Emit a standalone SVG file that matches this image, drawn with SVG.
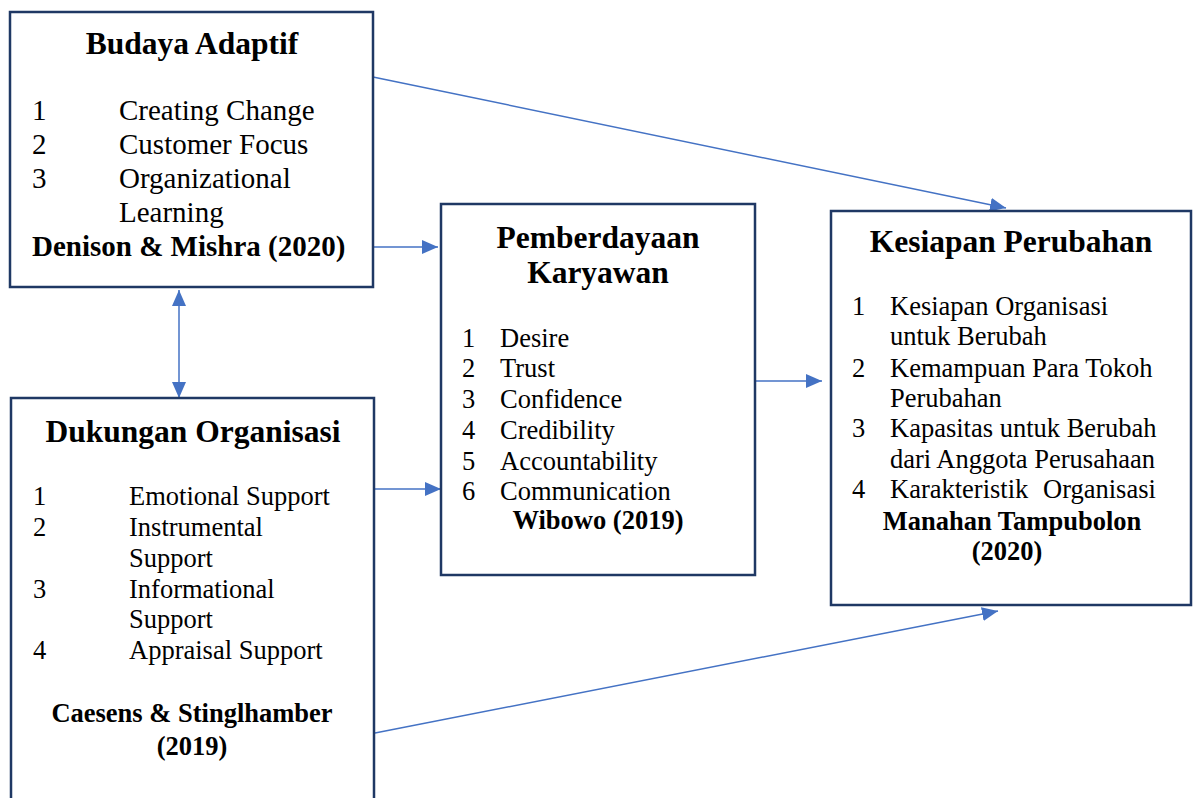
<svg xmlns="http://www.w3.org/2000/svg" width="1193" height="798" viewBox="0 0 1193 798">
<style>
.box{fill:#ffffff;stroke:#1F3864;stroke-width:2.5}
.t{font-family:"Liberation Serif","Times New Roman",serif;fill:#000}
.title{font-weight:bold;font-size:31.5px;text-anchor:middle}
.b1{font-size:29px}
.b{font-size:26.5px}
.cite{font-weight:bold;font-size:26.5px;text-anchor:middle}
.cite1{font-weight:bold;font-size:29px}
.conn{stroke:#4472C4;stroke-width:1.5;fill:none}
</style>
<defs>
<marker id="ah" markerUnits="userSpaceOnUse" markerWidth="16" markerHeight="14" refX="16" refY="7" orient="auto-start-reverse">
<path d="M0,0 L16,7 L0,14 z" fill="#4472C4"/>
</marker>
</defs>
<rect width="1193" height="798" fill="#ffffff"/>
<g id="connectors">
<line class="conn" x1="373" y1="77" x2="1006" y2="208" marker-end="url(#ah)"/>
<line class="conn" x1="373" y1="247" x2="438" y2="247" marker-end="url(#ah)"/>
<line class="conn" x1="375" y1="489" x2="441" y2="489" marker-end="url(#ah)"/>
<line class="conn" x1="755" y1="381" x2="822" y2="381" marker-end="url(#ah)"/>
<line class="conn" x1="375" y1="733" x2="998" y2="611" marker-end="url(#ah)"/>
<line class="conn" x1="179" y1="290" x2="179" y2="398" marker-start="url(#ah)" marker-end="url(#ah)"/>
</g>
<g id="budaya-adaptif">
<rect class="box" x="10" y="12" width="363" height="275"/>
<text class="t title" x="192" y="54">Budaya Adaptif</text>
<text class="t b1" x="32" y="120">1</text><text class="t b1" x="119" y="120">Creating Change</text>
<text class="t b1" x="32" y="154">2</text><text class="t b1" x="119" y="154">Customer Focus</text>
<text class="t b1" x="32" y="188">3</text><text class="t b1" x="119" y="188">Organizational</text>
<text class="t b1" x="119" y="222">Learning</text>
<text class="t cite1" x="32" y="256">Denison &amp; Mishra (2020)</text>
</g>
<g id="dukungan-organisasi">
<rect class="box" x="11" y="398" width="363" height="420"/>
<text class="t title" x="193" y="442">Dukungan Organisasi</text>
<text class="t b" x="33" y="505">1</text><text class="t b" x="129" y="505">Emotional Support</text>
<text class="t b" x="33" y="536">2</text><text class="t b" x="129" y="536">Instrumental</text>
<text class="t b" x="129" y="567">Support</text>
<text class="t b" x="33" y="598">3</text><text class="t b" x="129" y="598">Informational</text>
<text class="t b" x="129" y="628">Support</text>
<text class="t b" x="33" y="659">4</text><text class="t b" x="129" y="659">Appraisal Support</text>
<text class="t cite" x="192" y="722">Caesens &amp; Stinglhamber</text>
<text class="t cite" x="192" y="755">(2019)</text>
</g>
<g id="pemberdayaan-karyawan">
<rect class="box" x="441" y="204" width="314" height="371"/>
<text class="t title" x="598" y="248">Pemberdayaan</text>
<text class="t title" x="598" y="283">Karyawan</text>
<text class="t b" x="462" y="347">1</text><text class="t b" x="500" y="347">Desire</text>
<text class="t b" x="462" y="377">2</text><text class="t b" x="500" y="377">Trust</text>
<text class="t b" x="462" y="408">3</text><text class="t b" x="500" y="408">Confidence</text>
<text class="t b" x="462" y="439">4</text><text class="t b" x="500" y="439">Credibility</text>
<text class="t b" x="462" y="470">5</text><text class="t b" x="500" y="470">Accountability</text>
<text class="t b" x="462" y="500">6</text><text class="t b" x="500" y="500">Communication</text>
<text class="t cite" x="598" y="529">Wibowo (2019)</text>
</g>
<g id="kesiapan-perubahan">
<rect class="box" x="831" y="211" width="360" height="394"/>
<text class="t title" x="1011" y="252">Kesiapan Perubahan</text>
<text class="t b" x="852" y="315">1</text><text class="t b" x="890" y="315">Kesiapan Organisasi</text>
<text class="t b" x="890" y="345">untuk Berubah</text>
<text class="t b" x="852" y="377">2</text><text class="t b" x="890" y="377">Kemampuan Para Tokoh</text>
<text class="t b" x="890" y="407">Perubahan</text>
<text class="t b" x="852" y="437">3</text><text class="t b" x="890" y="437">Kapasitas untuk Berubah</text>
<text class="t b" x="890" y="468">dari Anggota Perusahaan</text>
<text class="t b" x="852" y="498">4</text><text class="t b" x="890" y="498">Karakteristik</text><text class="t b" x="1043" y="498">Organisasi</text>
<text class="t cite" x="1012" y="530">Manahan Tampubolon</text>
<text class="t cite" x="1007" y="560">(2020)</text>
</g>
</svg>
